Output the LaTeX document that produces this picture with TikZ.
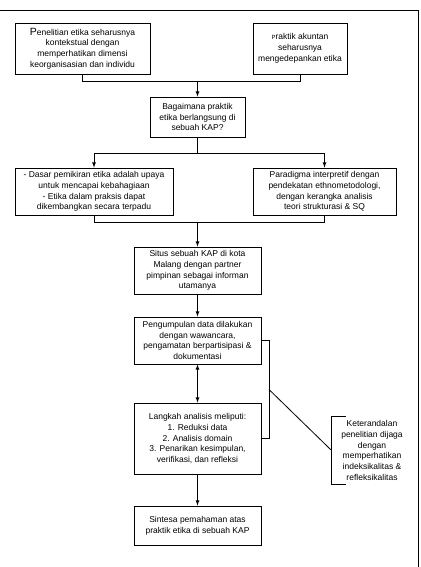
\documentclass[tikz,border=0pt]{standalone}
\usepackage{fontspec}
\setmainfont{Liberation Sans}
\usetikzlibrary{arrows}

\begin{document}
\begin{tikzpicture}[
    x=1pt, y=-1pt,
    kasten/.style={
      rectangle,
      draw,
      line width=.8pt,
      align=center,
      inner sep=1pt,
      font=\fontsize{8.5}{10.7}\selectfont},
    garis/.style={
      line width=.8pt}
    ]

  \useasboundingbox (0,0) rectangle (420,567);
  \draw [line width=1pt] (0,11) -- (418,11) -- (418,567);

  \node at (82.5,48.5) (kasten0) [kasten, minimum width=135, minimum height=51]
    {{\fontsize{10.5}{10}\selectfont P}enelitian etika seharusnya\\kontekstual dengan\\memperhatikan dimensi\\keorganisasian dan individu};

  \node at (300,48.5) (kasten1) [kasten, minimum width=94, minimum height=51]
    {{\fontsize{6}{6}\selectfont P}raktik akuntan\\seharusnya\\mengedepankan etika};

  \node at (197.5,117) (kasten2) [kasten, minimum width=95, minimum height=40]
    {Bagaimana praktik\\etika berlangsung di\\sebuah KAP?};

  \node at (94,191.5) (kasten3) [kasten, minimum width=158, minimum height=47]
    {- Dasar pemikiran etika adalah upaya\\untuk mencapai kebahagiaan\\- Etika dalam praksis dapat\\dikembangkan secara terpadu};

  \node at (324.5,191.5) (kasten4) [kasten, minimum width=143, minimum height=47]
    {Paradigma interpretif dengan\\pendekatan ethnometodologi,\\dengan kerangka analisis\\teori strukturasi \& SQ};

  \node at (197.5,270.5) (kasten5) [kasten, minimum width=127, minimum height=47]
    {Situs sebuah KAP di kota\\Malang dengan partner\\pimpinan sebagai informan\\utamanya};

  \node at (197.5,340.5) (kasten6) [kasten, minimum width=127, minimum height=47]
    {Pengumpulan data dilakukan\\dengan wawancara,\\pengamatan berpartisipasi \&\\dokumentasi};

  \node at (197.5,438.5) (kasten7) [kasten, minimum width=127, minimum height=71]
    {Langkah analisis meliputi:\\1. Reduksi data\\2. Analisis domain\\3. Penarikan kesimpulan,\\verifikasi, dan refleksi};

  \node at (197.5,525.5) (kasten8) [kasten, minimum width=127, minimum height=39]
    {Sintesa pemahaman atas\\praktik etika di sebuah KAP};

  \node at (372,450.5) (catatan) [kasten, draw=none, minimum width=80, minimum height=67]
    {Keterandalan\\penelitian dijaga\\dengan\\memperhatikan\\indeksikalitas \&\\refleksikalitas};

  \coordinate (gabung0) at (197.5,81);
  \coordinate (cabang0) at (197.5,153);
  \coordinate (gabung1) at (197.5,222);
  \coordinate (klammer) at (269,389.5);

  \draw [garis] (kasten0.south) -- ++(0,7) -| (kasten1.south);
  \path [garis, -latex] (gabung0) edge [] (kasten2.north);

  \draw [garis] (kasten2.south) -- (cabang0);
  \draw [garis, -latex] (cabang0) -| (kasten3.north);
  \draw [garis, -latex] (cabang0) -| (kasten4.north);

  \draw [garis] (kasten3.south) -- ++(0,7) -| (kasten4.south);
  \path [garis, -latex] (gabung1) edge [] (kasten5.north);

  \path [garis, -latex] (kasten5) edge [] (kasten6);
  \path [garis, latex-latex] (kasten6) edge [] (kasten7);
  \path [garis, -latex] (kasten7) edge [] (kasten8);

  \draw [garis] (kasten6.east) -- ++(8,0) |- (kasten7.east);
  \draw [garis] ([xshift=14pt]catatan.north west) -- (catatan.north west)
    -- (catatan.south west) -- ([xshift=14pt]catatan.south west);
  \draw [garis] (klammer) -- (catatan.west);

\end{tikzpicture}
\end{document}
